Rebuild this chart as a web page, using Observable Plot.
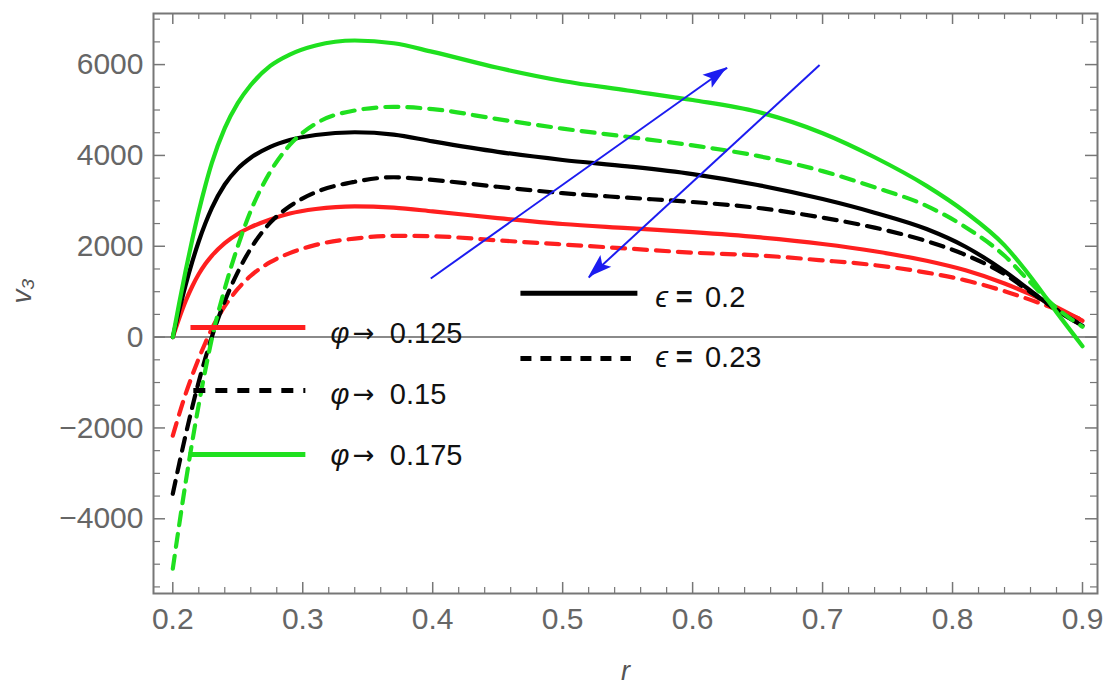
<!DOCTYPE html>
<html><head><meta charset="utf-8">
<script src="https://cdn.jsdelivr.net/npm/d3@7"></script>
<script src="https://cdn.jsdelivr.net/npm/@observablehq/plot@0.6"></script>
<style>body{margin:0;background:#fff} svg{display:block}</style>
</head><body><div id="chart"></div>
<script>
// shared r grid
const r = [0.2, 0.205, 0.21, 0.215, 0.22, 0.225, 0.23, 0.24, 0.25, 0.26, 0.275, 0.29, 0.31, 0.34, 0.37, 0.4, 0.45, 0.5, 0.55, 0.6, 0.65, 0.7, 0.74, 0.78, 0.81, 0.84, 0.86, 0.88, 0.9];
// phi -> 0.125 (red)
const vRedSolid  = [0, 420, 800, 1120, 1390, 1610, 1790, 2070, 2270, 2420, 2590, 2720, 2820, 2880, 2850, 2770, 2620, 2490, 2400, 2310, 2200, 2050, 1890, 1680, 1470, 1180, 940, 660, 360];
const vRedDash   = [-2170, -1690, -1240, -840, -470, -130, 180, 680, 1060, 1350, 1650, 1850, 2030, 2170, 2230, 2220, 2130, 2040, 1950, 1860, 1800, 1690, 1585, 1420, 1250, 1010, 820, 610, 380];
// phi -> 0.15 (black)
const vBlackSolid = [0, 600, 1160, 1660, 2110, 2500, 2840, 3360, 3710, 3950, 4190, 4340, 4450, 4510, 4460, 4310, 4080, 3900, 3760, 3590, 3350, 3040, 2740, 2380, 1990, 1450, 1020, 590, 250];
const vBlackDash  = [-3450, -2780, -2140, -1540, -980, -470, 0, 790, 1430, 1950, 2520, 2880, 3190, 3420, 3520, 3460, 3310, 3170, 3070, 2975, 2845, 2630, 2410, 2115, 1810, 1385, 990, 605, 250];
// phi -> 0.175 (green)
const vGreenSolid = [0, 760, 1480, 2150, 2770, 3330, 3830, 4600, 5150, 5550, 5970, 6220, 6420, 6530, 6470, 6280, 5930, 5640, 5430, 5220, 4960, 4490, 3960, 3330, 2750, 2020, 1330, 550, -200];
const vGreenDash  = [-5100, -4120, -3180, -2300, -1480, -730, -40, 1070, 2000, 2780, 3640, 4230, 4700, 4990, 5070, 5020, 4800, 4590, 4410, 4220, 3990, 3655, 3300, 2890, 2420, 1790, 1200, 640, 230];

const xTicks = [0.2, 0.3, 0.4, 0.5, 0.6, 0.7, 0.8, 0.9];
const yTicks = [-4000, -2000, 0, 2000, 4000, 6000];
const xMinor = d3.range(0.22, 0.905, 0.02).map(v => +v.toFixed(2)).filter(v => Math.abs(v*10 - Math.round(v*10)) > 1e-6);
const yMinor = d3.range(-5500, 7001, 500).filter(v => v % 2000 !== 0);

// arrows (r1,v1) -> (r2,v2)
const arrowR1 = [0.3985, 0.6977];
const arrowV1 = [1290, 5990];
const arrowR2 = [0.6266, 0.5200];
const arrowV2 = [5930, 1310];

// legend entries
const phiValues = ["0.125", "0.15", "0.175"];
const epsValues = ["0.2", "0.23"];

const RED = "#ff1f1f", BLACK = "#000", GREEN = "#1fe01f", BLUE = "#1c1cf0";
const DASH = "13,9";
const series = [
  {v: vRedSolid, color: RED, dash: null},
  {v: vRedDash, color: RED, dash: DASH},
  {v: vBlackSolid, color: BLACK, dash: null},
  {v: vBlackDash, color: BLACK, dash: DASH},
  {v: vGreenSolid, color: GREEN, dash: null},
  {v: vGreenDash, color: GREEN, dash: DASH}
];

const arrows = arrowR1.map((d, i) => ({r1: d, v1: arrowV1[i], r2: arrowR2[i], v2: arrowV2[i]}));

// legend layout (data units)
const phiLegend = [
  {r1: 0.2136, r2: 0.302, v: 214, tv: 80, color: RED, dash: null, label: phiValues[0]},
  {r1: 0.2158, r2: 0.302, v: -1174, tv: -1262, color: BLACK, dash: "12,10", label: phiValues[1]},
  {r1: 0.2121, r2: 0.302, v: -2584, tv: -2620, color: GREEN, dash: null, label: phiValues[2]}
];
const epsLegend = [
  {r1: 0.4675, r2: 0.5575, v: 963, tv: 870, dash: null, label: epsValues[0]},
  {r1: 0.4675, r2: 0.5525, v: -469, tv: -447, dash: "11,9", label: epsValues[1]}
];

const fmtY = d => d < 0 ? "−" + Math.abs(d) : String(d);
const GRAY = "#777";
const TXT = {textAnchor: "start", fontSize: 29, fill: "#111"};

const marks = [
  Plot.ruleY([0], {stroke: "#8a8a8a", strokeWidth: 2}),
  Plot.tickX(xTicks, {x: d => d, stroke: GRAY, strokeWidth: 1.5, insetTop: 569}),
  Plot.tickX(xTicks, {x: d => d, stroke: GRAY, strokeWidth: 1.5, insetBottom: 569}),
  Plot.tickX(xMinor, {x: d => d, stroke: GRAY, strokeWidth: 1.2, insetTop: 574}),
  Plot.tickX(xMinor, {x: d => d, stroke: GRAY, strokeWidth: 1.2, insetBottom: 574}),
  Plot.tickY(yTicks, {y: d => d, stroke: GRAY, strokeWidth: 1.5, insetRight: 932}),
  Plot.tickY(yTicks, {y: d => d, stroke: GRAY, strokeWidth: 1.5, insetLeft: 932}),
  Plot.tickY(yMinor, {y: d => d, stroke: GRAY, strokeWidth: 1.2, insetRight: 937}),
  Plot.tickY(yMinor, {y: d => d, stroke: GRAY, strokeWidth: 1.2, insetLeft: 937}),
  Plot.frame({stroke: GRAY, strokeWidth: 2}),
  Plot.axisX({ticks: xTicks, tickSize: 0, tickPadding: 14, tickFormat: d => d.toFixed(1), label: null}),
  Plot.axisY({ticks: yTicks, tickSize: 0, tickPadding: 10, tickFormat: fmtY, label: null}),
  ...series.map(s => Plot.line(r.map((x, i) => ({r: x, v: s.v[i]})), {
    x: "r", y: "v", stroke: s.color, strokeWidth: 4.2, strokeDasharray: s.dash, curve: "monotone-x"
  })),
  // arrow shafts
  Plot.link(arrows, {x1: "r1", y1: "v1", x2: "r2", y2: "v2", stroke: BLUE, strokeWidth: 2}),
  // phi legend
  ...phiLegend.map(d => Plot.link([d], {x1: "r1", x2: "r2", y1: "v", y2: "v", stroke: d.color, strokeWidth: 5, strokeDasharray: d.dash})),
  Plot.text(phiLegend, {x: () => 0.3213, y: "tv", text: () => "φ", fontStyle: "italic", ...TXT}),
  Plot.text(phiLegend, {x: () => 0.3385, y: "tv", text: () => "→", ...TXT, fontFamily: "'DejaVu Sans', sans-serif", fontSize: 26}),
  Plot.text(phiLegend, {x: () => 0.367, y: "tv", text: "label", ...TXT}),
  // eps legend
  ...epsLegend.map(d => Plot.link([d], {x1: "r1", x2: "r2", y1: "v", y2: "v", stroke: BLACK, strokeWidth: 5, strokeDasharray: d.dash})),
  Plot.text(epsLegend, {x: () => 0.5713, y: "tv", text: () => "ϵ", fontStyle: "italic", ...TXT}),
  Plot.text(epsLegend, {x: () => 0.587, y: "tv", text: () => "=", ...TXT, fontWeight: "bold"}),
  Plot.text(epsLegend, {x: () => 0.6095, y: "tv", text: "label", ...TXT}),
  // axis labels
  Plot.text(["v₃"], {frameAnchor: "left", dx: -131, rotate: -90, fontStyle: "italic", fontSize: 28, fill: "#555"}),
  Plot.text(["r"], {frameAnchor: "bottom", dy: 86, fontStyle: "italic", fontSize: 27, fill: "#555"})
];

const chart = Plot.plot({
  width: 1104, height: 699,
  marginTop: 13, marginRight: 7, marginBottom: 106, marginLeft: 153,
  x: {domain: [0.2 - 19.3/1300, 0.9 + 15/1300]},
  y: {domain: [-5645, 7125]},
  style: {fontFamily: "'Liberation Sans', Arial, sans-serif", fontSize: "30px", color: "#666", background: "#fff"},
  marks
});

// filled arrowheads through the plot's scales
const sx = chart.scale("x"), sy = chart.scale("y");
const svg = d3.select(chart);
arrows.forEach(a => {
  const x1 = sx.apply(a.r1), y1 = sy.apply(a.v1), x2 = sx.apply(a.r2), y2 = sy.apply(a.v2);
  const ang = Math.atan2(y2 - y1, x2 - x1);
  const L = 24, W = 8;
  const bx = x2 - L * Math.cos(ang), by = y2 - L * Math.sin(ang);
  const nx = bx + 5 * Math.cos(ang), ny = by + 5 * Math.sin(ang);
  const px = -Math.sin(ang) * W, py = Math.cos(ang) * W;
  svg.append("polygon")
    .attr("points", `${x2},${y2} ${bx + px},${by + py} ${nx},${ny} ${bx - px},${by - py}`)
    .attr("fill", BLUE);
});
document.getElementById("chart").appendChild(chart);
</script>
</body></html>
